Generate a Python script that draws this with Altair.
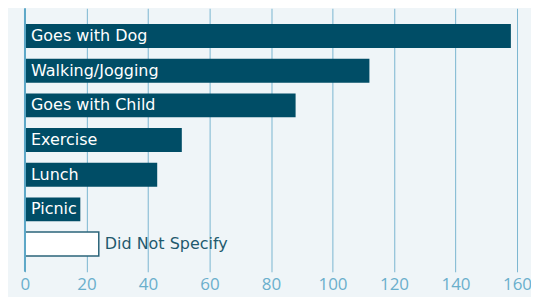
import altair as alt
import pandas as pd

categories = ["Goes with Dog", "Walking/Jogging", "Goes with Child", "Exercise", "Lunch", "Picnic", "Did Not Specify"]
values = [158, 112, 88, 51, 43, 18, 24]
x_ticks = [0, 20, 40, 60, 80, 100, 120, 140, 160]

df = pd.DataFrame({"category": categories, "value": values})

FONT = "Open Sans"
LABEL_FONT = "DejaVu Sans"
DARK = "#004d66"
GRID = "#7ab6d1"

y_enc = alt.Y("category:N", sort=categories, axis=None,
              scale=alt.Scale(paddingInner=0.3, paddingOuter=0.45))
x_scale = alt.Scale(domain=[0, 160], nice=False, zero=True)

base = alt.Chart(df)

bars = base.mark_bar(size=24, stroke=DARK, strokeWidth=0).encode(
    x=alt.X("value:Q", scale=x_scale,
            axis=alt.Axis(values=x_ticks, grid=True, gridColor=GRID, gridWidth=1,
                          gridOpacity=1, domain=False, ticks=False, title=None,
                          labelFont=FONT, labelFontSize=17, labelColor="#6aafcc",
                          labelPadding=5, labelFlush=False)),
    y=y_enc,
    fill=alt.condition(alt.datum.category == "Did Not Specify",
                       alt.value("#ffffff"), alt.value(DARK)),
    strokeWidth=alt.condition(alt.datum.category == "Did Not Specify",
                              alt.value(1.5), alt.value(0)),
    stroke=alt.value("#2b6479"),
)

zero_rule = alt.Chart(pd.DataFrame({"z": [0]})).mark_rule(
    color="#5ea8c8", strokeWidth=2).encode(x=alt.X("z:Q", scale=x_scale))

inside_labels = base.transform_filter(
    alt.datum.category != "Did Not Specify"
).mark_text(align="left", baseline="middle", dx=6, font=LABEL_FONT, fontSize=16,
            color="#ffffff").encode(
    x=alt.datum(0), y=y_enc, text="category:N")

outside_label = base.transform_filter(
    alt.datum.category == "Did Not Specify"
).mark_text(align="left", baseline="middle", dx=6, font=LABEL_FONT, fontSize=16,
            color="#1f5a6e").encode(
    x=alt.X("value:Q", scale=x_scale), y=y_enc, text="category:N")

chart = alt.layer(bars, zero_rule, inside_labels, outside_label).properties(
    width=493, height=264,
    autosize=alt.AutoSizeParams(type="none"),
    padding={"left": 17, "top": 0, "right": 14, "bottom": 25},
    background="#eff5f8",
).configure_view(stroke=None)

chart.save("out.html", embed_options={"renderer": "svg", "actions": False})
